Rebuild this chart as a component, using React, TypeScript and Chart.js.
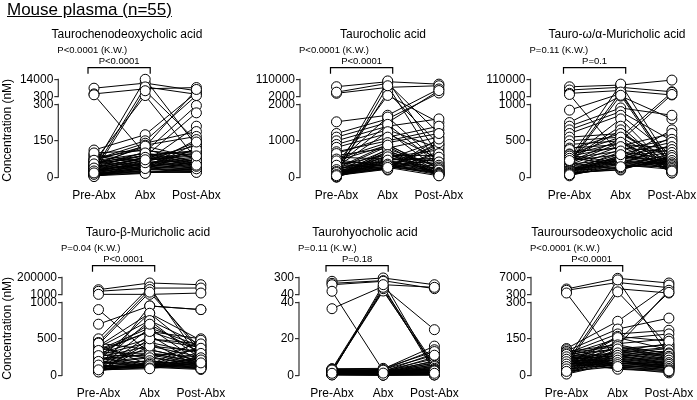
import React, { useEffect, useRef } from 'react';
import { Chart, registerables, LinearScale } from 'chart.js';

Chart.register(...registerables);

// ---------------- DATA ----------------
const categories = ['Pre-Abx', 'Abx', 'Post-Abx'];

// Taurochenodeoxycholic acid
const tcdcaName = 'Taurochenodeoxycholic acid';
const tcdcaKW = 'P<0.0001 (K.W.)';
const tcdcaP = 'P<0.0001';
const tcdcaLowTicks = [0, 150, 300];
const tcdcaUpTicks = [300, 14000];
const tcdcaPre = [7000, 2500, 1800, 45, 30, 65, 20, 112, 85, 55, 38, 25, 95, 72, 48, 15, 10, 8, 60, 42, 33, 28, 18, 12, 5, 78, 68, 52, 40, 36, 22, 16, 90, 75, 62, 50, 44, 35, 27, 20, 14, 9, 6, 3, 100, 58, 46, 32, 24, 12, 70, 55, 38, 26, 18];
const tcdcaAbx = [11000, 6500, 95, 14000, 8000, 1200, 5000, 175, 150, 125, 105, 85, 62, 140, 132, 40, 35, 30, 90, 75, 68, 55, 48, 42, 28, 115, 98, 88, 80, 70, 65, 58, 52, 46, 44, 38, 34, 32, 25, 22, 20, 18, 16, 60, 110, 78, 92, 50, 45, 36, 128, 100, 82, 60, 72];
const tcdcaPost = [5000, 7500, 55, 130, 2200, 75, 150, 3500, 1200, 6000, 295, 265, 210, 188, 168, 155, 140, 120, 110, 100, 95, 85, 80, 72, 65, 60, 58, 52, 48, 45, 42, 40, 38, 35, 32, 30, 28, 25, 24, 22, 20, 35, 45, 70, 90, 130, 105, 115, 62, 55, 78, 66, 50, 145, 88];

// Taurocholic acid
const tcaName = 'Taurocholic acid';
const tcaKW = 'P<0.0001 (K.W.)';
const tcaP = 'P<0.0001';
const tcaLowTicks = [0, 1000, 2000];
const tcaUpTicks = [2000, 110000];
const tcaPre = [64000, 23000, 30000, 1520, 200, 150, 350, 100, 1200, 1100, 1000, 900, 820, 700, 600, 550, 480, 420, 380, 320, 280, 250, 220, 180, 120, 80, 60, 40, 30, 20, 10, 5, 400, 300, 260, 240, 200, 170, 140, 110, 90, 70, 50, 35, 25, 15, 650, 500, 450, 330, 210, 160, 130, 75, 45];
const tcaAbx = [95000, 60000, 85000, 1700, 100000, 30000, 10000, 70000, 1600, 1500, 1400, 1300, 1200, 1000, 800, 500, 300, 200, 1650, 1450, 1250, 900, 850, 750, 700, 650, 600, 550, 520, 480, 450, 420, 400, 380, 350, 330, 300, 280, 260, 250, 240, 230, 220, 600, 700, 780, 1100, 950, 880, 620, 560, 470, 360, 320, 270];
const tcaPost = [80000, 70000, 1200, 50000, 600, 900, 1500, 300, 25000, 40000, 1600, 800, 500, 1300, 1100, 1000, 900, 700, 400, 350, 200, 150, 100, 80, 60, 50, 600, 750, 450, 520, 380, 300, 250, 220, 180, 160, 140, 120, 850, 950, 1050, 650, 550, 420, 330, 280, 1400, 1200, 240, 200, 130, 110, 90, 70, 40];

// Tauro-omega/alpha-Muricholic acid
const tmcaName = 'Tauro-ω/α-Muricholic acid';
const tmcaKW = 'P=0.11 (K.W.)';
const tmcaP = 'P=0.1';
const tmcaLowTicks = [0, 500, 1000];
const tmcaUpTicks = [1000, 110000];
const tmcaPre = [63000, 43000, 22000, 15000, 920, 750, 700, 650, 600, 550, 500, 450, 400, 350, 300, 280, 250, 220, 200, 180, 160, 150, 130, 120, 100, 90, 80, 70, 60, 50, 40, 30, 20, 270, 260, 240, 230, 210, 190, 170, 140, 110, 95, 85, 75, 65, 55, 45, 35, 380, 320, 310, 290, 260, 230];
const tmcaAbx = [74000, 60000, 40000, 300, 20000, 5000, 950, 900, 850, 600, 550, 500, 450, 400, 200, 150, 80000, 30000, 10000, 250, 220, 180, 160, 140, 120, 350, 300, 280, 260, 240, 230, 210, 190, 170, 800, 700, 650, 520, 480, 430, 380, 320, 290, 270, 250, 100, 110, 130, 145, 600, 550, 480, 420, 360, 310];
const tmcaPost = [105000, 32000, 12000, 200, 150, 800, 850, 500, 300, 250, 28000, 15000, 400, 350, 200, 150, 180, 120, 100, 650, 550, 450, 320, 280, 260, 240, 220, 210, 190, 170, 160, 140, 130, 110, 90, 80, 70, 60, 60, 600, 520, 480, 420, 380, 340, 300, 270, 230, 200, 180, 160, 140, 120, 100, 85];

// Tauro-beta-Muricholic acid
const tbmcaName = 'Tauro-β-Muricholic acid';
const tbmcaKW = 'P=0.04 (K.W.)';
const tbmcaP = 'P<0.0001';
const tbmcaLowTicks = [0, 500, 1000];
const tbmcaUpTicks = [1000, 200000];
const tbmcaPre = [58000, 40000, 5000, 900, 700, 500, 450, 420, 400, 380, 350, 320, 300, 280, 250, 220, 200, 180, 150, 130, 120, 100, 90, 80, 70, 60, 50, 380, 280, 200, 150, 100, 80, 60, 420, 300, 250, 180, 120, 90, 70, 440, 310, 230, 160, 110, 85, 65, 55, 45, 340, 270, 190, 140, 75];
const tbmcaAbx = [135000, 77000, 5000, 300, 950, 90000, 60000, 30000, 850, 750, 650, 600, 500, 450, 400, 350, 300, 250, 200, 150, 130, 120, 110, 140, 160, 180, 950, 220, 260, 850, 750, 650, 550, 450, 140, 130, 125, 120, 115, 110, 105, 350, 300, 280, 240, 200, 170, 150, 400, 500, 600, 700, 130, 100, 90];
const tbmcaPost = [115000, 77000, 20000, 250, 900, 200, 300, 350, 480, 420, 400, 500, 380, 300, 250, 200, 180, 150, 130, 110, 100, 90, 80, 120, 140, 160, 900, 450, 350, 280, 220, 170, 130, 110, 480, 400, 320, 260, 230, 190, 150, 200, 180, 160, 140, 120, 100, 90, 330, 430, 370, 300, 240, 210, 170];

// Taurohyocholic acid
const thcaName = 'Taurohyocholic acid';
const thcaKW = 'P=0.11 (K.W.)';
const thcaP = 'P=0.18';
const thcaLowTicks = [0, 20, 40];
const thcaUpTicks = [40, 300];
const thcaPre = [240, 210, 189, 91, 36.5, 3, 2.5, 2, 3.5, 1.5, 1, 0.8, 0.5, 2, 1.8, 1.2, 1, 0.9, 0.7, 0.6, 2.8, 2.6, 2.4, 2.2, 2, 1.6, 1.4, 1.2, 1, 0.8, 0.6, 0.5, 0.4, 0.3, 3.2, 3, 2.7, 2.5, 2.3, 2.1, 1.9, 1.7, 1.5, 1.3, 1.1, 0.9, 0.7, 0.5, 0.4, 0.3, 0.2, 3.6, 3.3, 2.9, 1.1];
const thcaAbx = [290, 250, 240, 2.5, 165, 110, 95, 130, 150, 190, 3.5, 3, 2, 1.5, 1.2, 1, 0.8, 0.6, 0.5, 0.4, 2.2, 2, 1.8, 1.6, 1.4, 1.2, 1, 0.9, 0.8, 0.7, 0.6, 0.5, 0.4, 0.3, 2.6, 2.4, 2.1, 1.9, 1.7, 1.5, 1.3, 1.1, 0.9, 0.7, 0.5, 0.4, 0.3, 0.2, 0.2, 0.1, 0.1, 3.8, 3.2, 2.8, 1.2];
const thcaPost = [189, 130, 3, 1.5, 2, 4, 5, 6, 25, 150, 16, 14, 12, 10, 8, 7, 6, 5, 4.5, 4, 3.5, 3, 2.5, 2, 1.8, 1.5, 1.2, 1, 0.8, 0.6, 0.5, 0.4, 0.3, 0.2, 9, 7.5, 6.5, 5.5, 4.8, 3.8, 3.2, 2.8, 2.2, 1.7, 1.3, 0.9, 0.7, 0.5, 0.4, 0.3, 0.2, 13, 11, 2.4, 1.1];

// Tauroursodeoxycholic acid
const tudcaName = 'Tauroursodeoxycholic acid';
const tudcaKW = 'P<0.0001 (K.W.)';
const tudcaP = 'P<0.0001';
const tudcaLowTicks = [0, 150, 300];
const tudcaUpTicks = [300, 7000];
const tudcaPre = [2500, 2000, 950, 50, 40, 60, 110, 100, 90, 85, 80, 75, 70, 65, 60, 55, 50, 45, 40, 35, 30, 25, 20, 15, 10, 105, 95, 88, 82, 78, 72, 68, 62, 58, 52, 48, 42, 38, 34, 28, 22, 18, 12, 8, 5, 98, 92, 86, 76, 66, 56, 46, 36, 26, 16];
const tudcaAbx = [6600, 5000, 60, 2600, 1400, 6000, 222, 190, 170, 150, 130, 110, 90, 80, 60, 50, 40, 30, 120, 140, 100, 95, 85, 75, 70, 65, 55, 48, 45, 42, 38, 35, 33, 28, 25, 160, 155, 115, 105, 98, 88, 78, 68, 58, 52, 125, 118, 108, 92, 82, 72, 62, 52, 44, 36];
const tudcaPost = [4800, 3000, 30, 950, 120, 80, 4000, 235, 185, 170, 150, 125, 110, 90, 70, 50, 30, 10, 2000, 1200, 130, 115, 100, 95, 85, 75, 65, 60, 55, 45, 40, 35, 25, 20, 15, 140, 105, 92, 80, 68, 58, 48, 42, 38, 32, 88, 78, 72, 62, 52, 45, 36, 28, 22, 18];

// ---------------- LAYOUT ----------------
const FONT = '"Liberation Sans", Arial, Helvetica, sans-serif';
const CANVAS_W = 262;
const CANVAS_H = 200;
const AREA_TOP = 79.3;
const AREA_ZERO = 177.3;
const UPPER_PX = 17.4;
const GAP_PX = 7.6;
const X_SPACING = 51.2;

const panels = [
  { name: tcdcaName, kw: tcdcaKW, p: tcdcaP, low: tcdcaLowTicks, up: tcdcaUpTicks, pre: tcdcaPre, abx: tcdcaAbx, post: tcdcaPost, left: 0, top: 0, axisX: 58.3, firstX: 94, titleX: 127, yTitle: true },
  { name: tcaName, kw: tcaKW, p: tcaP, low: tcaLowTicks, up: tcaUpTicks, pre: tcaPre, abx: tcaAbx, post: tcaPost, left: 232, top: 0, axisX: 300, firstX: 336.5, titleX: 383, yTitle: false },
  { name: tmcaName, kw: tmcaKW, p: tmcaP, low: tmcaLowTicks, up: tmcaUpTicks, pre: tmcaPre, abx: tmcaAbx, post: tmcaPost, left: 462, top: 0, axisX: 530.5, firstX: 569.5, titleX: 617, yTitle: false },
  { name: tbmcaName, kw: tbmcaKW, p: tbmcaP, low: tbmcaLowTicks, up: tbmcaUpTicks, pre: tbmcaPre, abx: tbmcaAbx, post: tbmcaPost, left: 0, top: 198, axisX: 62, firstX: 98.5, titleX: 148, yTitle: true },
  { name: thcaName, kw: thcaKW, p: thcaP, low: thcaLowTicks, up: thcaUpTicks, pre: thcaPre, abx: thcaAbx, post: thcaPost, left: 232, top: 198, axisX: 299, firstX: 332, titleX: 365, yTitle: false },
  { name: tudcaName, kw: tudcaKW, p: tudcaP, low: tudcaLowTicks, up: tudcaUpTicks, pre: tudcaPre, abx: tudcaAbx, post: tudcaPost, left: 462, top: 198, axisX: 531, firstX: 566.5, titleX: 602, yTitle: false },
];

const panelInfo = new WeakMap<any, any>();

// ---------------- BROKEN AXIS SCALE ----------------
class BrokenScale extends LinearScale {
  static id = 'broken';
  cfg(): any {
    return panelInfo.get((this as any).chart.canvas);
  }
  lowMax(): number {
    const b = this.cfg();
    return b.low[b.low.length - 1];
  }
  highMax(): number {
    const b = this.cfg();
    return b.up[b.up.length - 1];
  }
  determineDataLimits() {
    (this as any).min = 0;
    (this as any).max = this.highMax();
  }
  buildTicks() {
    const b = this.cfg();
    const lower = b.low.map((v: number) => ({ value: v, upper: false }));
    const upper = b.up.map((v: number) => ({ value: v, upper: true }));
    return [...lower, ...upper] as any;
  }
  lowerPixel(v: number): number {
    const s: any = this;
    const lowerH = s.bottom - s.top - UPPER_PX - GAP_PX;
    return s.bottom - (v / this.lowMax()) * lowerH;
  }
  upperPixel(v: number): number {
    const s: any = this;
    const lm = this.lowMax();
    const t = (v - lm) / (this.highMax() - lm);
    return s.top + UPPER_PX * (1 - t);
  }
  getPixelForValue(v: number): number {
    return v <= this.lowMax() ? this.lowerPixel(v) : this.upperPixel(v);
  }
  getPixelForTick(i: number): number {
    const t: any = (this as any).ticks[i];
    return t.upper ? this.upperPixel(t.value) : this.lowerPixel(t.value);
  }
  getValueForPixel(p: number): number {
    const s: any = this;
    const lm = this.lowMax();
    const lowerH = s.bottom - s.top - UPPER_PX - GAP_PX;
    if (p >= s.bottom - lowerH) return ((s.bottom - p) / lowerH) * lm;
    return lm + (1 - (p - s.top) / UPPER_PX) * (this.highMax() - lm);
  }
}
Chart.register(BrokenScale as any);

const decorPlugin = {
  id: 'decor',
  afterDraw(chart: any) {
    const cfg = panelInfo.get(chart.canvas);
    if (!cfg) return;
    const ctx = chart.ctx;
    const ys = chart.scales.y;
    const xs = chart.scales.x;
    const area = chart.chartArea;
    const ax = area.left;
    const top = area.top;
    const lm = cfg.low[cfg.low.length - 1];
    const hm = cfg.up[cfg.up.length - 1];
    ctx.save();
    ctx.strokeStyle = '#333';
    ctx.lineWidth = 1.2;
    ctx.beginPath();
    ctx.moveTo(ax, ys.lowerPixel(0) + 0.6);
    ctx.lineTo(ax, ys.lowerPixel(lm) - 0.6);
    ctx.moveTo(ax, ys.upperPixel(cfg.up[0]) + 0.6);
    ctx.lineTo(ax, ys.upperPixel(hm) - 0.6);
    ctx.stroke();

    const x0 = xs.getPixelForValue(0) - 6;
    const x1 = xs.getPixelForValue(1) + 5;
    ctx.strokeStyle = '#000';
    ctx.beginPath();
    ctx.moveTo(x0, top - 5.5);
    ctx.lineTo(x0, top - 11.6);
    ctx.lineTo(x1, top - 11.6);
    ctx.lineTo(x1, top - 5.5);
    ctx.stroke();

    ctx.fillStyle = '#000';
    ctx.textBaseline = 'alphabetic';
    ctx.font = `12px ${FONT}`;
    ctx.textAlign = 'center';
    ctx.fillText(cfg.name, cfg.titleX - cfg.left, top - 41);
    ctx.font = `9.5px ${FONT}`;
    ctx.textAlign = 'left';
    ctx.fillText(cfg.kw, ax - 1, top - 26.5);
    ctx.textAlign = 'center';
    ctx.fillText(cfg.p, (x0 + x1) / 2, top - 15);

    if (cfg.yTitle) {
      ctx.font = `12px ${FONT}`;
      ctx.translate(8 - cfg.left, (area.top + area.bottom) / 2 + 2);
      ctx.rotate(-Math.PI / 2);
      ctx.textAlign = 'center';
      ctx.textBaseline = 'middle';
      ctx.fillText('Concentration (nM)', 0, 0);
    }
    ctx.restore();
  },
};

function Panel({ cfg }: { cfg: any }) {
  const ref = useRef<HTMLCanvasElement>(null);
  useEffect(() => {
    const canvas = ref.current as HTMLCanvasElement;
    panelInfo.set(canvas, cfg);
    const yW = cfg.axisX - cfg.left;
    const xMin = -(cfg.firstX - cfg.axisX) / X_SPACING;
    const xMax = xMin + (cfg.left + CANVAS_W - cfg.axisX) / X_SPACING;
    const tickFont = { family: FONT, size: 12 };

    const lineSets = cfg.pre.map((_: number, i: number) => ({
      data: [
        { x: 0, y: cfg.pre[i] },
        { x: 1, y: cfg.abx[i] },
        { x: 2, y: cfg.post[i] },
      ],
      borderColor: '#000',
      borderWidth: 1,
      pointRadius: 0,
      pointHoverRadius: 0,
      fill: false,
      tension: 0,
      clip: false,
      order: 1,
    }));
    const pointSets = [cfg.pre, cfg.abx, cfg.post].map((arr: number[], g: number) => ({
      data: arr.map((v) => ({ x: g, y: v })),
      showLine: false,
      pointRadius: 5,
      pointHoverRadius: 5,
      pointBackgroundColor: '#fff',
      pointBorderColor: '#000',
      pointBorderWidth: 1,
      clip: false,
      order: 0,
    }));

    const chart = new Chart(canvas, {
      type: 'line',
      data: { datasets: [...pointSets, ...lineSets] as any },
      options: {
        animation: false,
        responsive: false,
        events: [],
        layout: { autoPadding: false, padding: { top: AREA_TOP, left: 0, right: 0, bottom: 0 } },
        plugins: { legend: { display: false }, tooltip: { enabled: false }, title: { display: false } },
        scales: {
          x: {
            type: 'linear',
            min: xMin,
            max: xMax,
            bounds: 'data',
            grid: { display: false },
            border: { display: false },
            afterBuildTicks: (s: any) => {
              s.ticks = categories.map((_, i) => ({ value: i }));
            },
            afterFit: (s: any) => {
              s.height = CANVAS_H - AREA_ZERO;
            },
            ticks: {
              font: tickFont,
              color: '#000',
              padding: 3,
              autoSkip: false,
              maxRotation: 0,
              callback: (v: any) => categories[Math.round(Number(v))],
            },
          },
          y: {
            type: 'broken' as any,
            grid: { display: true, drawOnChartArea: false, drawTicks: true, tickLength: 4, color: '#333', lineWidth: 1.2 },
            border: { display: false },
            afterFit: (s: any) => {
              s.width = yW;
            },
            ticks: {
              font: tickFont,
              color: '#000',
              padding: 1,
              autoSkip: false,
              callback: (v: any) => String(v),
            },
          },
        } as any,
      },
      plugins: [decorPlugin],
    });
    return () => chart.destroy();
  }, []);
  return (
    <canvas
      ref={ref}
      width={CANVAS_W}
      height={CANVAS_H}
      style={{ position: 'absolute', left: cfg.left, top: cfg.top, width: CANVAS_W, height: CANVAS_H }}
    />
  );
}

export default function App() {
  return (
    <div style={{ position: 'absolute', left: 0, top: 0, width: 697, height: 400, overflow: 'hidden', background: '#fff' }}>
      {panels.map((p, i) => (
        <Panel key={i} cfg={p} />
      ))}
      <div
        style={{
          position: 'absolute',
          left: 7,
          top: 1,
          fontFamily: FONT,
          fontSize: 17,
          lineHeight: '17px',
          textDecoration: 'underline',
          whiteSpace: 'nowrap',
          color: '#000',
        }}
      >
        Mouse plasma (n=55)
      </div>
    </div>
  );
}
